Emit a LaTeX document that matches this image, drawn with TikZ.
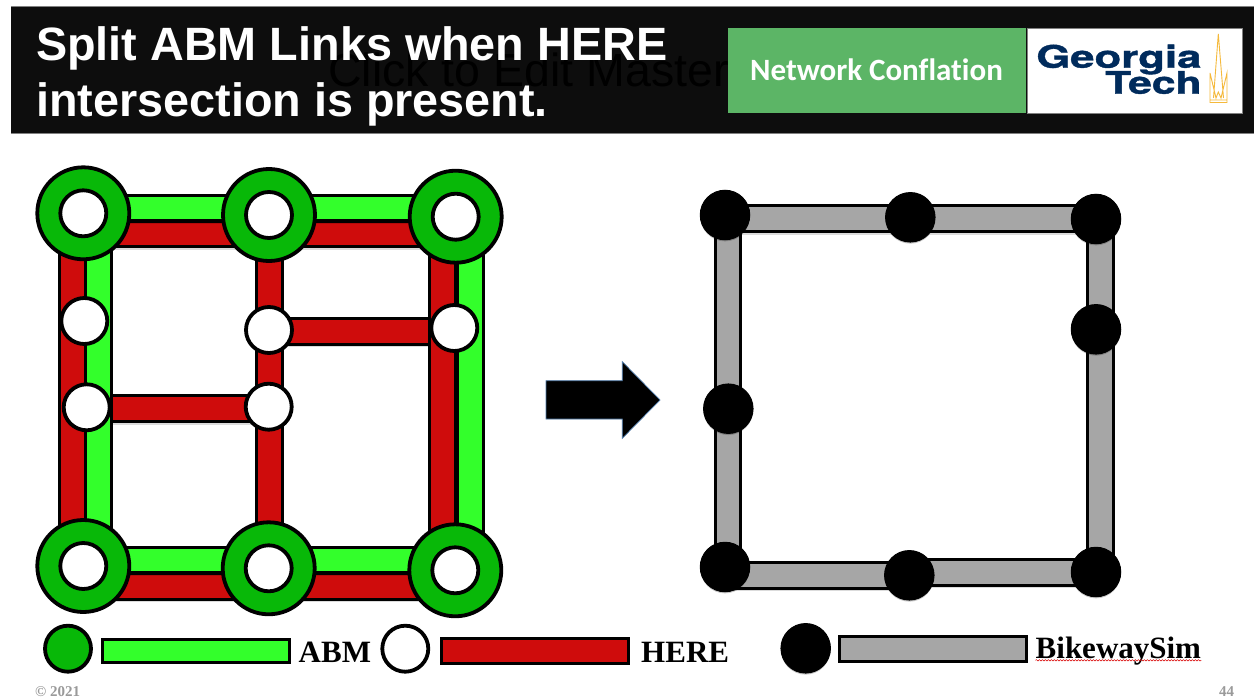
\documentclass[tikz,border=0pt]{standalone}
\usepackage{fontspec}
\setmainfont{Liberation Serif}
\newfontfamily\arialf{Liberation Sans}
\newfontfamily\calibrif[Ligatures=NoCommon]{Carlito}
\newfontfamily\logof[BoldFeatures={FakeBold=1.2}]{TeX Gyre Heros}
\usetikzlibrary{shadows,decorations.pathmorphing}
\definecolor{headbg}{HTML}{0D0D0D}
\definecolor{boxgreen}{HTML}{5CB566}
\definecolor{abmbright}{HTML}{33FF2B}
\definecolor{abmdark}{HTML}{08B808}
\definecolor{herered}{HTML}{CF0C0C}
\definecolor{simgrey}{HTML}{A6A6A6}
\definecolor{gtnavy}{HTML}{002B5C}
\definecolor{gtgold}{HTML}{F5B93B}
\definecolor{footgrey}{HTML}{9A9A9A}
\definecolor{arrowedge}{HTML}{4F7CAC}
\tikzset{
  softshadow/.style={drop shadow={shadow xshift=0pt,shadow yshift=-1.6pt,opacity=.22,fill=black}},
  ringnode/.style={circle,draw=black,line width=3.8pt,fill=abmdark,minimum size=92pt,inner sep=0pt,softshadow},
  whitenode/.style={circle,draw=black,line width=3.8pt,fill=white,minimum size=46pt,inner sep=0pt,softshadow},
  blacknode/.style={circle,draw=black,line width=1pt,fill=black,minimum size=49.5pt,inner sep=0pt,softshadow},
  keyabm/.style={circle,draw=black,line width=3.8pt,fill=abmdark,minimum size=46pt,inner sep=0pt,softshadow},
  barline/.style={line width=3pt,double distance=#1,preaction={draw=black,opacity=.14,line width=#1+6pt,transform canvas={yshift=-1.6pt}}},
  abmbar/.style={barline=22.5pt,double=abmbright},
  herebar/.style={barline=22.5pt,double=herered},
  simbar/.style={barline=22.5pt,double=simgrey},
  keybar/.style={draw=black,line width=3pt,minimum height=25pt,inner sep=0pt,outer sep=0pt,softshadow},
  keytext/.style={anchor=base west,inner sep=0pt,font=\fontsize{31}{31}\selectfont\bfseries},
  titletext/.style={anchor=base west,inner sep=0pt,text=white,font=\arialf\fontsize{46.75}{46.75}\selectfont\bfseries},
  logotext/.style={anchor=base east,inner sep=0pt,text=gtnavy,font=\logof\fontsize{31}{31}\selectfont\bfseries},
  foottext/.style={anchor=base west,inner sep=0pt,text=footgrey,font=\fontsize{15}{15}\selectfont\bfseries},
  spire/.style={draw=gtgold,line width=.9pt,line join=miter}
}
\begin{document}
\begin{tikzpicture}[x=1pt,y=-1pt]
\useasboundingbox (0,0) rectangle (1254,698);
\fill[white] (0,0) rectangle (1254,698);
% header
\fill[headbg] (11,7) rectangle (1254,133);
\draw[gray,line width=.7pt] (11,6.7) -- (1254,6.7) (11,133.3) -- (1254,133.3);
\node[anchor=base west,inner sep=0pt,text=black,font=\arialf\fontsize{46.5}{46.5}\selectfont] (ghost) at (328,87) {Click to Edit Master};
\node[fill=boxgreen,minimum width=298pt,minimum height=85pt,inner sep=0pt,outer sep=0pt,anchor=north west] (netbox) at (728,28) {};
\node[inner sep=0pt,anchor=base,text=white,font=\calibrif\fontsize{31}{31}\selectfont\bfseries] (nettext) at (876.5,80.5) {Network Conflation};
\node[fill=white,draw=gray,line width=.6pt,minimum width=215pt,minimum height=85pt,inner sep=0pt,outer sep=0pt,anchor=north west] (logobox) at (1027,28) {};
\node[logotext,xscale=1.41] (geo) at (1201.7,67.7) {Georgia};
\node[logotext,xscale=1.37] (tech) at (1201.7,93.7) {Tech};
\draw[spire] (1218.3,34) -- (1213.5,98) (1218.3,34) -- (1223.5,98)
  (1210,73) -- (1210,100) (1210,73) -- (1216,98) -- (1218.3,92) -- (1221,98) -- (1227,73) -- (1227,100)
  (1210,100) rectangle (1227,102.5);
\node[titletext] (title1) at (36,61) {Split ABM Links when HERE};
\node[titletext] (title2) at (36,116.5) {intersection is present.};
% anchor points of the left network
\path
  (83.3,213.3) coordinate (tl) (269,215) coordinate (tm) (455.7,216.7) coordinate (tr)
  (83.3,566) coordinate (bl) (268.7,568.3) coordinate (bm) (455.3,570.3) coordinate (br)
  (84.3,321) coordinate (l1) (86.7,407.3) coordinate (l2)
  (269,330) coordinate (m1) (268.7,406.7) coordinate (m2) (454.3,328) coordinate (r1);
% red cross links
\draw[herebar] (m1 |- 0,331.5) -- (r1 |- 0,331.5);
\draw[herebar] (l2 |- 0,408.7) -- (m2 |- 0,408.7);
% left network main links
\draw[herebar] (tm -| 269.5,0) -- (bm -| 269.5,0);
\draw[abmbar] (tl -| 98.5,0) -- (bl -| 98.5,0);
\draw[herebar] (tl -| 72.5,0) -- (bl -| 72.5,0);
\draw[abmbar] (tr -| 470.5,0) -- (br -| 470.5,0);
\draw[herebar] (tr -| 442.7,0) -- (br -| 442.7,0);
\draw[herebar] (tl |- 0,234) -- (tr |- 0,234);
\draw[abmbar] (tl |- 0,208.2) -- (tr |- 0,208.2);
\draw[herebar] (bl |- 0,586.3) -- (br |- 0,586.3);
\draw[abmbar] (bl |- 0,559.8) -- (br |- 0,559.8);
% rings and white nodes
\foreach \n in {tl,tm,tr,bl,bm,br}{
  \node[ringnode] (ring\n) at (\n) {};
  \node[whitenode] (white\n) at (\n) {};
}
\foreach \n in {l1,l2,m1,m2,r1}{
  \node[whitenode] (white\n) at (\n) {};
}
% arrow
\fill[black,draw=arrowedge,line width=.7pt]
  (546,380.7) -- (622.3,380.7) -- (622.3,361.7) -- (660,400) -- (622.3,438.3) -- (622.3,419) -- (546,419) -- cycle;
% right network
\path
  (725,215) coordinate (stl) (910.3,217.3) coordinate (stm) (1096,219) coordinate (str)
  (1096,329.3) coordinate (srm) (728.3,408.7) coordinate (slm)
  (725,567) coordinate (sbl) (909.3,575.3) coordinate (sbm) (1096,572) coordinate (sbr);
\draw[simbar] (stl -| 728,0) -- (sbl -| 728,0);
\draw[simbar] (str -| 1100.3,0) -- (sbr -| 1100.3,0);
\draw[simbar] (stl |- 0,218.7) -- (str |- 0,218.7);
\draw[simbar] (sbl |- 0,575.3) -- (sbm |- 0,575.3);
\draw[simbar] (sbm |- 0,572.3) -- (sbr |- 0,572.3);
\foreach \n in {stl,stm,str,srm,slm,sbl,sbm,sbr}{
  \node[blacknode] (dot\n) at (\n) {};
}
% legend
\node[keyabm] (keya) at (68,648.7) {};
\node[keybar,fill=abmbright,minimum width=186.5pt,minimum height=23.5pt,anchor=north west] (keyabar) at (102.5,639) {};
\node[keytext] (abmlabel) at (298.5,662) {ABM};
\node[whitenode] (keyh) at (405.3,648.7) {};
\node[keybar,fill=herered,minimum width=187pt,anchor=north west] (keyhbar) at (441,638.2) {};
\node[keytext] (herelabel) at (641,662) {HERE};
\node[blacknode] (keys) at (805.7,648.3) {};
\node[keybar,fill=simgrey,minimum width=187.5pt,anchor=north west] (keysbar) at (839,636.5) {};
\node[keytext] (simlabel) at (1035.5,658.3) {BikewaySim};
\draw[red!85!black,line width=.5pt,decorate,decoration={snake,segment length=3pt,amplitude=.7pt}]
  ([yshift=-2pt]simlabel.base west) -- ([yshift=-2pt]simlabel.base east);
% footer
\node[foottext] (copy) at (35,696) {© 2021};
\node[foottext] (page) at (1219,696) {44};
\end{tikzpicture}
\end{document}
